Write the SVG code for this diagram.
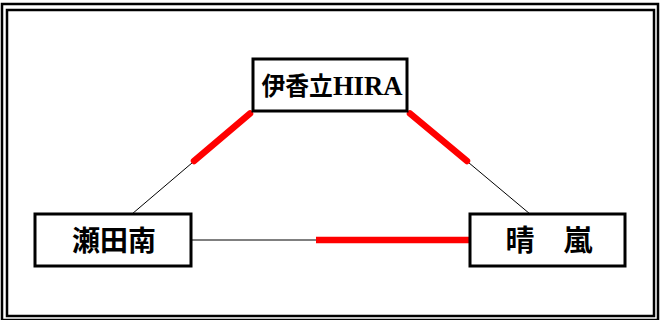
<svg xmlns="http://www.w3.org/2000/svg" width="660" height="320" viewBox="0 0 660 320">
<style>
.frame{fill:none;stroke:#000;stroke-width:2.5}
.box{fill:#fff;stroke:#000;stroke-width:3}
.thin{stroke:#000;stroke-width:1;fill:none}
.red{stroke:#ff0000;stroke-width:6.5;stroke-linecap:round;fill:none}
.lbl{font-family:"Liberation Serif","Noto Sans CJK JP",serif;fill:#000;text-anchor:middle;font-weight:bold}
</style>
<rect width="660" height="320" fill="#fff"/>
<rect class="frame" x="2" y="4" width="656" height="316"/>
<rect class="frame" x="7" y="10" width="647" height="306"/>
<g id="connectors">
<line class="thin" x1="253" y1="111" x2="132" y2="214"/>
<line class="red" x1="250" y1="113.5" x2="194" y2="161"/>
<line class="thin" x1="407" y1="111" x2="530" y2="214"/>
<line class="red" x1="410" y1="113.5" x2="467" y2="161"/>
<line class="thin" x1="191" y1="240" x2="470" y2="240"/>
<line class="red" x1="316" y1="240" x2="470" y2="240" style="stroke-linecap:butt"/>
</g>
<g id="node-ikatachi">
<rect class="box" x="253" y="59" width="154" height="52"/>
<text class="lbl" x="332" y="95" font-size="25" textLength="141" lengthAdjust="spacingAndGlyphs">伊香立<tspan font-size="28">HIRA</tspan></text>
</g>
<g id="node-setaminami">
<rect class="box" x="35" y="214" width="156" height="52"/>
<text class="lbl" x="114" y="251" font-size="28">瀬田南</text>
</g>
<g id="node-seiran">
<rect class="box" x="470" y="214" width="155" height="52"/>
<text class="lbl" x="549" y="251" font-size="29">晴　嵐</text>
</g>
</svg>
